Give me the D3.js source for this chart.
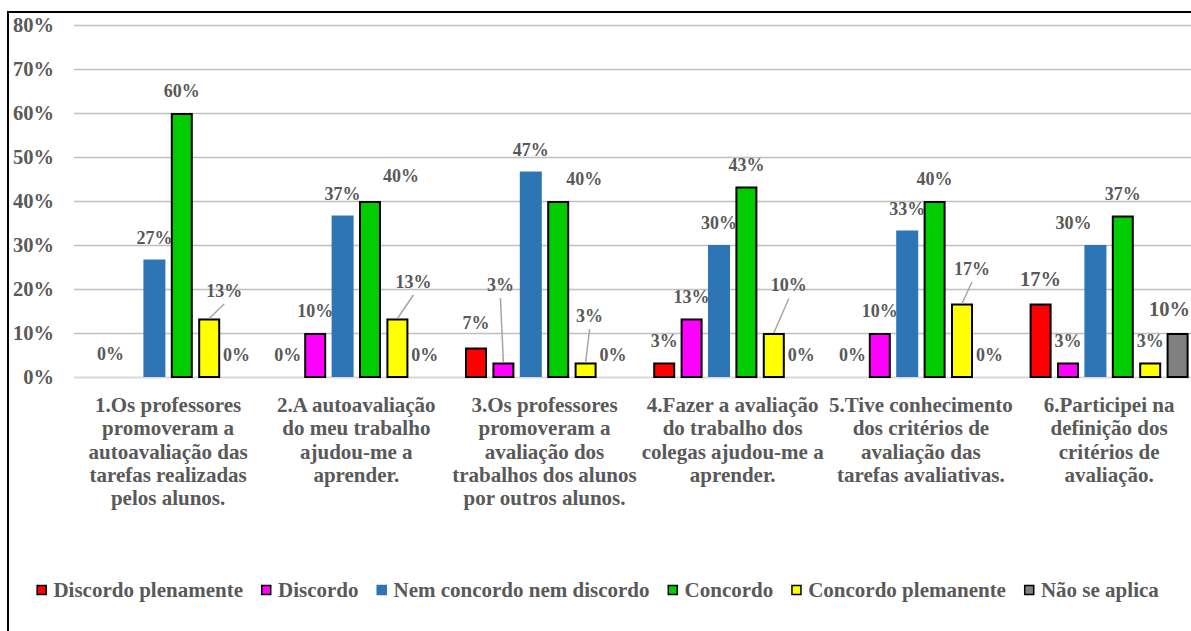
<!DOCTYPE html>
<html>
<head>
<meta charset="utf-8">
<script src="https://cdn.jsdelivr.net/npm/d3@7"></script>
<style>
  html, body { margin: 0; padding: 0; background: #fff; }
  svg { display: block; }
  svg text { font-family: "Liberation Serif", Tinos, "Times New Roman", Times, "DejaVu Serif", serif !important; font-weight: bold; fill: #595959; }
</style>
</head>
<body>
<svg id="chart" width="1191" height="631"></svg>
<script>
// ---- data ----
const categories = [
  "1.Os professores\npromoveram a\nautoavaliação das\ntarefas realizadas\npelos alunos.",
  "2.A autoavaliação\ndo meu trabalho\najudou-me a\naprender.",
  "3.Os professores\npromoveram a\navaliação dos\ntrabalhos dos alunos\npor outros alunos.",
  "4.Fazer a avaliação\ndo trabalho dos\ncolegas ajudou-me a\naprender.",
  "5.Tive conhecimento\ndos critérios de\navaliação das\ntarefas avaliativas.",
  "6.Participei na\ndefinição dos\ncritérios de\navaliação."
];
const seriesNames = ["Discordo plenamente", "Discordo", "Nem concordo nem discordo", "Concordo", "Concordo plemanente", "Não se aplica"];
const discordoPlenamente     = [0, 0, 6.7, 3.3, 0, 16.7];
const discordo               = [0, 10, 3.3, 13.3, 10, 3.3];
const nemConcordoNemDiscordo = [26.7, 36.7, 46.7, 30, 33.3, 30];
const concordo               = [60, 40, 40, 43.3, 40, 36.7];
const concordoPlenamente     = [13.3, 13.3, 3.3, 10, 16.7, 3.3];
const naoSeAplica            = [0, 0, 0, 0, 0, 10];
const yTicks = [0, 10, 20, 30, 40, 50, 60, 70, 80];

// label placement adjustments (group index, series index)
const labelTweaks = [
  {g: 0, s: 0, dx: 11, dy: -1},
  {g: 0, s: 1, hide: true},
  {g: 0, s: 4, dx: 15, dy: -6, leader: true},
  {g: 1, s: 3, dx: 31, dy: -3},
  {g: 1, s: 4, dx: 16, dy: -15, leader: true},
  {g: 2, s: 0, dx: 0, dy: -3},
  {g: 2, s: 1, dx: -3, dy: -56, leader: true},
  {g: 2, s: 3, dx: 26, dy: 0},
  {g: 2, s: 4, dx: 4, dy: -25, leader: true},
  {g: 3, s: 4, dx: 15, dy: -26, leader: true},
  {g: 4, s: 4, dx: 10, dy: -13, leader: true},
  {g: 5, s: 0, dx: 0, dy: -3, big: true},
  {g: 5, s: 2, dx: -22, dy: 0},
  {g: 5, s: 5, dx: -8, dy: -2, big: true}
];

const seriesValues = [discordoPlenamente, discordo, nemConcordoNemDiscordo, concordo, concordoPlenamente, naoSeAplica];
const colors = ["#FF0000", "#FF00FF", "#2E75B6", "#00CC00", "#FFFF00", "#808080"];
const stroked = [true, true, false, true, true, true];

// ---- layout ----
const svg = d3.select("#chart");
const plotLeft = 74, groupStep = 188.2;
const x0 = d3.scaleBand().domain(d3.range(categories.length))
  .range([plotLeft, plotLeft + groupStep * categories.length]).padding(0);
const x1 = d3.scaleBand().domain(d3.range(seriesNames.length))
  .range([0, x0.bandwidth()]).paddingInner(0.197).paddingOuter(0.533);
const y = d3.scaleLinear().domain([0, 80]).range([377, 25]);

// gridlines
const grid = svg.append("g").attr("transform", `translate(${plotLeft},0)`)
  .call(d3.axisLeft(y).tickValues(yTicks).tickSize(-(1191 - plotLeft)).tickFormat(""));
grid.select(".domain").remove();
grid.selectAll(".tick line").attr("stroke", d => d === 0 ? "#D9D9D9" : "#BFBFBF")
  .attr("stroke-width", d => d === 0 ? 2 : 1.3);

// y tick labels
const yAxis = svg.append("g").attr("transform", "translate(54,0)")
  .call(d3.axisLeft(y).tickValues(yTicks).tickSize(0).tickPadding(0).tickFormat(d => d + "%"));
yAxis.attr("font-family", null).attr("font-size", null);
yAxis.select(".domain").remove();
yAxis.selectAll("text").attr("font-size", 20.5).attr("fill", "#595959").attr("dy", "0.33em");

// bars
const rows = [];
categories.forEach((c, g) => seriesValues.forEach((vals, s) => rows.push({g, s, v: vals[g]})));

svg.append("g").selectAll("rect").data(rows.filter(d => d.v > 0)).join("rect")
  .attr("x", d => x0(d.g) + x1(d.s) + (stroked[d.s] ? 1 : 0))
  .attr("width", d => x1.bandwidth() - (stroked[d.s] ? 2 : 0))
  .attr("y", d => y(d.v) + (stroked[d.s] ? 1 : 0))
  .attr("height", d => y(0) - y(d.v) - (stroked[d.s] ? 1 : 0))
  .attr("fill", d => colors[d.s])
  .attr("stroke", d => stroked[d.s] ? "#000" : "none")
  .attr("stroke-width", 2);

// data labels
const labelG = svg.append("g");
rows.forEach(d => {
  const t = labelTweaks.find(k => k.g === d.g && k.s === d.s) || {};
  if (t.hide) return;
  const bx = x0(d.g) + x1(d.s) + x1.bandwidth() / 2;
  const top = y(d.v);
  const cx = bx + (t.dx || 0);
  const cy = top - 21.5 + (t.dy || 0);
  if (t.leader) {
    labelG.append("line").attr("x1", cx).attr("y1", cy + 13).attr("x2", bx).attr("y2", top)
      .attr("stroke", "#A6A6A6").attr("stroke-width", 1.5);
  }
  const fs = t.big ? 20.5 : 18;
  labelG.append("text").attr("x", cx).attr("y", cy + fs * 0.33)
    .attr("text-anchor", "middle").attr("font-size", fs)
    .text(Math.round(d.v) + "%");
});

// category labels
const catG = svg.append("g");
categories.forEach((c, g) => {
  const cx = x0(g) + x0.bandwidth() / 2;
  const t = catG.append("text").attr("text-anchor", "middle").attr("font-size", 21)
    .attr("x", cx).attr("y", 412);
  c.split("\n").forEach((line, i) => {
    t.append("tspan").attr("x", cx).attr("dy", i === 0 ? 0 : 23.25).text(line);
  });
});

// legend
const legend = svg.append("g");
let lx = 36.4;
const ly = 590;
seriesNames.forEach((name, s) => {
  const sq = 10.5;
  legend.append("rect")
    .attr("x", lx + (stroked[s] ? 0.75 : 0)).attr("y", ly - sq / 2 + (stroked[s] ? 0.75 : 0))
    .attr("width", stroked[s] ? sq - 1.5 : sq).attr("height", stroked[s] ? sq - 1.5 : sq)
    .attr("fill", colors[s]).attr("stroke", stroked[s] ? "#000" : "none").attr("stroke-width", 1.5);
  const txt = legend.append("text").attr("x", lx + 17).attr("y", ly + 7)
    .attr("font-size", 21).text(name);
  lx = lx + 17 + txt.node().getComputedTextLength() + 18;
});

// outer border (left and top)
svg.append("path").attr("d", "M8,631V12H1191").attr("fill", "none")
  .attr("stroke", "#000").attr("stroke-width", 2);
</script>
</body>
</html>
